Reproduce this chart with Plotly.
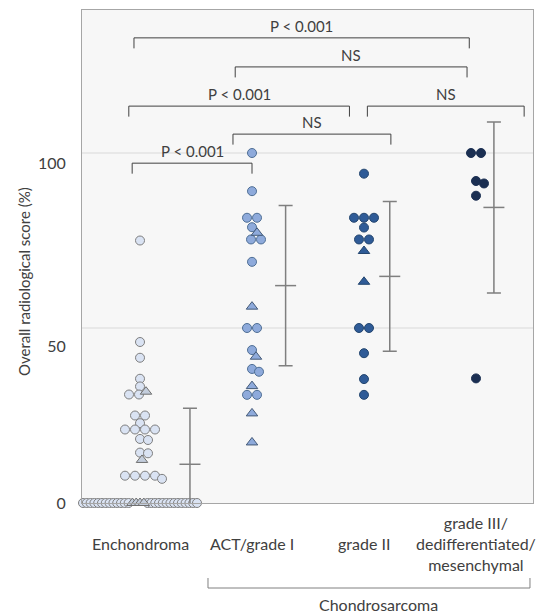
import math
import plotly.graph_objects as go

# ---------------- data ----------------
CATEGORIES = ["Enchondroma", "ACT/grade I", "grade II",
              "grade III/<br>dedifferentiated/<br>mesenchymal"]

ENCH_CIRCLES = [75, 46, 41.5, 35.5, 33.3, 31, 31, 25, 25, 22.8, 21, 21, 21, 21,
                18.3, 18, 14.4, 14.2, 7.8, 7.8, 7.8, 7.8, 6.9,
                0, 0, 0, 0, 0, 0, 0, 0, 0, 0, 0, 0, 0, 0, 0, 0, 0, 0, 0, 0, 0,
                0, 0, 0, 0, 0, 0]
ENCH_TRIANGLES = [31.8, 12.3, 0, 0, 0, 0]

ACT_CIRCLES = [100, 89.1, 81.5, 81.5, 78.8, 75.3, 75.3, 68.9, 50, 50, 43.7,
               38.3, 37.5, 30.9, 30.9]
ACT_TRIANGLES = [77.2, 56.1, 41.8, 33.4, 25.6, 17.3]

G2_CIRCLES = [94.1, 81.5, 81.5, 81.5, 78.7, 75.3, 75.3, 50, 50, 42.8, 35.4, 30.9]
G2_TRIANGLES = [72.0, 63.2]

G3_CIRCLES = [100, 100, 92, 91.3, 87.8, 35.6]
G3_TRIANGLES = []

BR_LABELS = ["P < 0.001", "NS", "P < 0.001", "NS", "NS", "P < 0.001"]
BR_X0 = [0.946, 1.85, 0.90, 3.03, 1.83, 0.93]
BR_X1 = [3.94, 3.92, 2.87, 4.43, 3.24, 2.0]
BR_Y = [132.9, 124.6, 113.4, 113.4, 105.4, 97.1]

GROUP_LABEL = "Chondrosarcoma"
Y_TICK_TEXT = ["0", "50", "100"]

# ---------------- styles ----------------
FILL = ["#dae3f3", "#8eaadb", "#2f5b97", "#1b2f52"]
EDGE = ["#7f7f7f", "#4f6f95", "#24466f", "#1b2f52"]
TRI_FILL = ["#c3cddc", "#8eaadb", "#2f5b97", "#1b2f52"]
TRI_EDGE = ["#6f6f6f", "#445a78", "#24466f", "#1b2f52"]
ERR_OFFSET = [0.446, 0.30, 0.23, 0.16]
TXT = "#404040"
FONT = "Lato"

SHIFT = 8  # page body margin
W, H = 551, 616
ML, MR, MT, MB = 82 - SHIFT, 18 + SHIFT, 10 - SHIFT, 113 + SHIFT
XR = [0.482, 4.509]
YR = [0, 140.86]
PW = W - ML - MR
PH = H - MT - MB
PX_X = PW / (XR[1] - XR[0])
PX_Y = PH / (YR[1] - YR[0])


def py(p):
    """screen pixel row -> paper y"""
    return (H - MB - (p - SHIFT)) / PH


def px(p):
    """screen pixel column -> paper x"""
    return (p - SHIFT - ML) / PW


def swarm(vals, shapes, D=7.5, wmax=114):
    order = sorted(range(len(vals)), key=lambda i: -vals[i])
    groups = []
    for i in order:
        if groups and vals[groups[-1][0]] == vals[i]:
            groups[-1].append(i)
        else:
            groups.append([i])
    placed = []
    off = [0.0] * len(vals)
    for g in groups:
        circ = [i for i in g if shapes[i] == "c"]
        tri = [i for i in g if shapes[i] == "t"]
        h = len(circ) // 2
        g = circ[:h] + tri + circ[h:]
        n = len(g)
        s = D if n == 1 else min(D + 2.5, wmax / (n - 1))
        base = [(k - (n - 1) / 2) * s for k in range(n)]
        y = vals[g[0]] * PX_Y
        chosen = 0
        for step in range(400):
            shift = ((step + 1) // 2) * (1 if step % 2 else -1)
            ok = all(math.hypot(b + shift - qx, y - qy) >= D
                     for b in base for (qx, qy) in placed)
            if ok:
                chosen = shift
                break
        for k, i in enumerate(g):
            off[i] = base[k] + chosen
            placed.append((off[i], y))
    return off


fig = go.Figure()

groups = [(ENCH_CIRCLES, ENCH_TRIANGLES), (ACT_CIRCLES, ACT_TRIANGLES),
          (G2_CIRCLES, G2_TRIANGLES), (G3_CIRCLES, G3_TRIANGLES)]

for gi, (circ, tri) in enumerate(groups):
    cx = gi + 1
    vals = list(circ) + list(tri)
    shapes = ["c"] * len(circ) + ["t"] * len(tri)
    off = swarm(vals, shapes)
    xs = [cx + o / PX_X for o in off]
    fig.add_trace(go.Scatter(
        x=xs[:len(circ)], y=list(circ), mode="markers", cliponaxis=False,
        marker=dict(symbol="circle", size=9, color=FILL[gi],
                    line=dict(color=EDGE[gi], width=1)),
        showlegend=False, hoverinfo="y"))
    if tri:
        fig.add_trace(go.Scatter(
            x=xs[len(circ):], y=list(tri), mode="markers", cliponaxis=False,
            marker=dict(symbol="triangle-up", size=10, color=TRI_FILL[gi],
                        line=dict(color=TRI_EDGE[gi], width=1)),
            showlegend=False, hoverinfo="y"))
    # mean +/- SD of circle series
    n = len(circ)
    m = sum(circ) / n
    sd = math.sqrt(sum((v - m) ** 2 for v in circ) / (n - 1))
    fig.add_trace(go.Scatter(
        x=[cx + ERR_OFFSET[gi]], y=[m], mode="markers", cliponaxis=False,
        marker=dict(symbol="line-ew", size=15,
                    line=dict(color="#7f7f7f", width=1.5)),
        error_y=dict(type="data", array=[sd], visible=True, width=7,
                     thickness=1.5, color="#7f7f7f"),
        showlegend=False, hoverinfo="y"))

shapes = []
for yv in (50, 100):
    shapes.append(dict(type="line", xref="paper", x0=0, x1=1, yref="y",
                       y0=yv, y1=yv, line=dict(color="#d9d9d9", width=1),
                       layer="below"))

annotations = []
DROP = 3.0
for lab, x0, x1, yv in zip(BR_LABELS, BR_X0, BR_X1, BR_Y):
    shapes.append(dict(type="path", xref="x", yref="y",
                       path=f"M {x0},{yv - DROP} L {x0},{yv} L {x1},{yv} L {x1},{yv - DROP}",
                       line=dict(color="#404040", width=1)))
    annotations.append(dict(x=(x0 + x1) / 2, y=yv, xref="x", yref="y",
                            text=lab, showarrow=False, yanchor="bottom",
                            yshift=1, font=dict(size=15, color=TXT, family=FONT)))

for i, lab in enumerate(CATEGORIES):
    annotations.append(dict(x=i + 1, y=py(543), xref="x", yref="paper",
                            text=lab, showarrow=False, yanchor="middle",
                            xanchor="center",
                            font=dict(size=16, color=TXT, family=FONT)))

# Chondrosarcoma group bracket
shapes.append(dict(type="path", xref="x", yref="paper",
                   path=f"M 1.607,{py(578)} L 1.607,{py(588)} L 4.482,{py(588)} L 4.482,{py(578)}",
                   line=dict(color="#808080", width=1)))
annotations.append(dict(x=3.13, y=py(604), xref="x", yref="paper",
                        text=GROUP_LABEL, showarrow=False, yanchor="middle",
                        font=dict(size=16, color=TXT, family=FONT)))

annotations.append(dict(x=px(24), y=py(282), xref="paper",
                        yref="paper", text="Overall radiological score (%)",
                        textangle=-90, showarrow=False, xanchor="center",
                        yanchor="middle",
                        font=dict(size=15, color=TXT, family=FONT)))

fig.update_layout(
    width=W, height=H, margin=dict(l=ML, r=MR, t=MT, b=MB),
    paper_bgcolor="white", plot_bgcolor="#f7f7f7",
    font=dict(family=FONT, color=TXT),
    shapes=shapes, annotations=annotations, showlegend=False,
    xaxis=dict(range=XR, showticklabels=False, showgrid=False, zeroline=False,
               showline=True, mirror=True, linecolor="#a6a6a6", linewidth=1,
               ticks=""),
    yaxis=dict(range=YR, showgrid=False, zeroline=False, showline=True,
               mirror=True, linecolor="#a6a6a6", linewidth=1, ticks="",
               tickvals=[0, 44.7, 97.1], ticktext=Y_TICK_TEXT,
               tickfont=dict(size=16, color=TXT, family=FONT),
               ticklabelstandoff=12),
)

fig.write_html("out.html")
